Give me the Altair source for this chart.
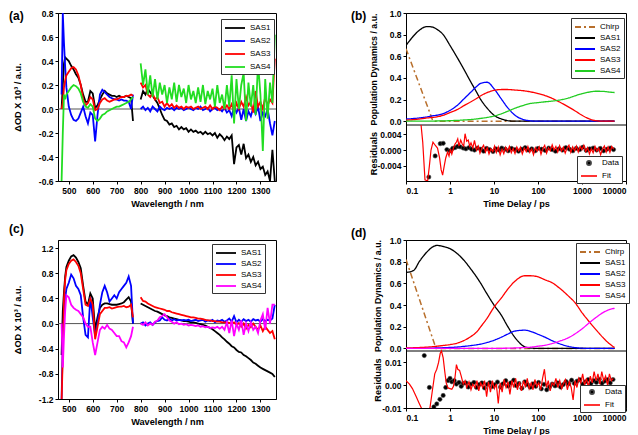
import altair as alt
import pandas as pd

FONT = "Liberation Sans"
MINUS = "replace(datum.label, '\u2212', '-')"
LINE_SYM = "M-2,0L2,0"

# ---------------- spectra (a) and (c) ----------------
WL_VIS = [470, 475, 480, 485, 490, 500, 510, 520, 530, 540, 550, 560, 570, 580, 590, 600,
          610, 620, 630, 640, 650, 660, 670, 680, 690, 700, 710, 720, 730, 740, 750, 760, 768]
WL_NIR = list(range(800, 1361, 10))
SPEC_NAMES = ["SAS1", "SAS2", "SAS3", "SAS4"]

A_SAS1_VIS = [0.0, 0.2, 0.38, 0.43, 0.42, 0.40, 0.36, 0.33, 0.29, 0.26, 0.2, 0.12, 0.06, 0.06, 0.15, 0.13, 0.01,
              0.03, 0.08, 0.12, 0.15, 0.13, 0.12, 0.11, 0.11, 0.1, 0.11, 0.1, 0.1, 0.11, 0.1, 0.09, -0.1]
A_SAS1_NIR = [0.08, 0.15, 0.12, 0.17, 0.14, 0.11, 0.08, 0.05, 0.0, -0.05,
              -0.09, -0.1, -0.13, -0.12, -0.15, -0.14, -0.17, -0.15, -0.17, -0.16,
              -0.19, -0.17, -0.19, -0.18, -0.2, -0.19, -0.21, -0.19, -0.21, -0.2,
              -0.22, -0.2, -0.24, -0.21, -0.23, -0.26, -0.23, -0.25, -0.22, -0.46,
              -0.32, -0.3, -0.38, -0.29, -0.41, -0.38, -0.44, -0.4, -0.47, -0.44,
              -0.5, -0.48, -0.55, -0.52, -0.6, -0.34, -0.6]
A_SAS2_VIS = [0.12, 0.8, 0.55, 0.35, 0.18, 0.02, -0.05, -0.09, -0.1, -0.08, -0.03, 0.02, -0.06, -0.12, -0.03, -0.05,
              -0.27, -0.05, 0.12, 0.16, 0.14, 0.12, 0.1, 0.09, 0.08, 0.08, 0.07, 0.08, 0.07, 0.07, 0.06, 0.0, 0.12]
A_SAS2_NIR = [0.0, 0.02, -0.01, 0.01, -0.02, 0.02, 0.0, -0.02, 0.02, 0.0,
              -0.01, 0.01, 0.0, 0.01, -0.01, 0.01, 0.0, 0.01, -0.01, 0.0,
              0.01, 0.0, -0.01, 0.01, 0.0, 0.02, -0.01, 0.0, 0.01, -0.02,
              0.0, 0.01, -0.01, 0.0, -0.02, 0.01, -0.03, -0.01, -0.06, 0.02,
              -0.03, 0.01, -0.09, 0.0, -0.1, -0.02, -0.06, 0.01, -0.04, 0.02,
              -0.1, -0.03, -0.06, 0.0, -0.12, -0.22, -0.1]
A_SAS3_VIS = [0.0, 0.05, 0.18, 0.24, 0.28, 0.31, 0.34, 0.35, 0.33, 0.28, 0.2, 0.08, 0.03, 0.05, 0.1, 0.08, -0.01,
              0.0, 0.05, 0.08, 0.09, 0.07, 0.06, 0.07, 0.08, 0.08, 0.09, 0.1, 0.1, 0.11, 0.11, 0.12, 0.11]
A_SAS3_NIR = [0.22, 0.18, 0.2, 0.12, 0.1, 0.13, 0.08, 0.1, 0.05, 0.06,
              0.02, 0.05, 0.02, 0.04, 0.01, 0.03, 0.01, 0.02, 0.0, 0.02,
              0.01, 0.02, 0.0, 0.01, 0.02, 0.0, 0.01, 0.02, 0.0, 0.03,
              0.0, 0.02, 0.01, -0.01, 0.02, 0.0, 0.03, 0.0, 0.04, -0.02,
              0.05, 0.0, 0.06, 0.02, 0.1, 0.03, 0.06, -0.03, 0.15, 0.02,
              0.06, 0.0, 0.1, 0.03, 0.08, 0.05, 0.42]
A_SAS4_VIS = [-0.6, -0.2, 0.12, 0.08, 0.12, 0.15, 0.18, 0.2, 0.19, 0.17, 0.13, 0.06, 0.02, 0.01, 0.04, 0.02, -0.08,
              -0.1, -0.08, -0.05, -0.04, -0.02, -0.01, 0.0, 0.01, 0.02, 0.02, 0.03, 0.04, 0.05, 0.06, 0.08, 0.1]
A_SAS4_NIR = [0.38, 0.2, 0.33, 0.12, 0.28, 0.1, 0.25, 0.08, 0.22, 0.12,
              0.2, 0.05, 0.18, 0.08, 0.22, 0.06, 0.2, 0.1, 0.17, 0.05,
              0.2, 0.08, 0.15, 0.05, 0.18, 0.06, 0.2, 0.04, 0.15, 0.08,
              0.17, 0.02, 0.2, 0.05, 0.12, 0.0, 0.2, 0.02, 0.28, -0.12,
              0.25, 0.0, 0.2, 0.3, -0.1, 0.22, 0.02, 0.2, -0.05, 0.38,
              0.12, -0.35, 0.25, -0.08, 0.22, 0.05, 0.62]

C_SAS1_VIS = [-0.5, 0.2, 0.5, 0.75, 0.9, 1.0, 1.07, 1.09, 1.05, 0.98, 0.88, 0.6, 0.35, 0.3, 0.48, 0.4, -0.1,
              0.1, 0.25, 0.3, 0.32, 0.32, 0.31, 0.3, 0.3, 0.3, 0.31, 0.32, 0.34, 0.38, 0.42, 0.35, 0.0]
C_SAS1_NIR = [0.32, 0.3, 0.28, 0.26, 0.24, 0.22, 0.2, 0.19, 0.17, 0.15,
              0.13, 0.12, 0.1, 0.09, 0.08, 0.07, 0.06, 0.05, 0.04, 0.04,
              0.03, 0.02, 0.02, 0.01, 0.0, -0.01, -0.02, -0.03, -0.05, -0.07,
              -0.09, -0.12, -0.15, -0.18, -0.22, -0.25, -0.29, -0.32, -0.36, -0.38,
              -0.42, -0.45, -0.46, -0.5, -0.52, -0.55, -0.58, -0.62, -0.64, -0.67,
              -0.7, -0.72, -0.74, -0.76, -0.78, -0.8, -0.85]
C_SAS2_VIS = [-1.2, -0.3, 0.2, 0.4, 0.55, 0.65, 0.78, 0.72, 0.6, 0.55, 0.45, 0.1, -0.18, -0.22, 0.42, 0.1, -0.2,
              0.0, 0.3, 0.5, 0.6, 0.5, 0.35, 0.4, 0.45, 0.4, 0.5, 0.55, 0.6, 0.65, 0.75, 0.6, 0.0]
C_SAS2_NIR = [0.0, 0.02, -0.03, 0.0, 0.02, -0.02, 0.02, 0.04, 0.05, 0.1,
              0.06, 0.05, 0.08, 0.05, 0.07, 0.05, 0.06, 0.05, 0.06, 0.05,
              0.06, 0.04, 0.05, 0.06, 0.04, 0.05, 0.06, 0.03, 0.05, 0.04,
              0.06, 0.02, 0.05, 0.04, 0.06, 0.03, 0.05, 0.08, 0.03, 0.12,
              0.02, 0.06, 0.03, 0.07, 0.04, 0.06, 0.03, 0.07, 0.05, 0.06,
              0.03, 0.07, 0.04, 0.06, 0.05, 0.08, 0.3]
C_SAS3_VIS = [-1.25, -0.5, 0.4, 0.7, 0.85, 0.95, 1.0, 1.02, 0.98, 0.92, 0.8, 0.55, 0.3, 0.28, 0.4, 0.3, -0.25,
              -0.05, 0.15, 0.2, 0.25, 0.25, 0.26, 0.24, 0.25, 0.26, 0.27, 0.27, 0.28, 0.26, 0.27, 0.3, 0.1]
C_SAS3_NIR = [0.42, 0.36, 0.35, 0.32, 0.3, 0.28, 0.26, 0.25, 0.24, 0.23,
              0.22, 0.2, 0.2, 0.18, 0.17, 0.16, 0.15, 0.14, 0.13, 0.12,
              0.11, 0.1, 0.1, 0.09, 0.08, 0.08, 0.07, 0.06, 0.05, 0.05,
              0.04, 0.04, 0.03, 0.03, 0.02, 0.02, 0.02, 0.01, 0.0, 0.02,
              -0.02, 0.01, -0.05, 0.0, -0.08, -0.02, -0.06, 0.0, -0.05, -0.1,
              -0.03, -0.12, -0.05, -0.1, -0.15, -0.12, -0.25]
C_SAS4_VIS = [0.0, -0.7, -0.2, 0.2, 0.45, 0.42, 0.3, 0.25, 0.22, 0.2, 0.15, 0.1, 0.0, -0.05, -0.05, -0.3, -0.5,
              -0.3, -0.1, -0.05, -0.08, -0.02, -0.08, -0.1, -0.15, -0.2, -0.2, -0.28, -0.3, -0.38, -0.3, -0.2, -0.05]
C_SAS4_NIR = [0.0, -0.02, 0.02, -0.03, 0.0, -0.02, 0.03, 0.05, 0.1, 0.12,
              0.15, 0.1, 0.05, 0.03, 0.0, 0.02, -0.01, 0.0, -0.02, -0.01,
              -0.03, -0.02, -0.03, -0.04, -0.03, -0.05, -0.04, -0.06, -0.05, -0.07,
              -0.06, -0.07, -0.05, -0.08, -0.05, -0.1, 0.02, -0.15, 0.05, -0.2,
              0.0, -0.1, 0.05, -0.18, 0.0, -0.12, 0.02, -0.1, -0.05, -0.15,
              0.05, 0.15, -0.1, 0.25, 0.0, 0.3, 0.3]

# ---------------- kinetics (b) and (d) ----------------
T_GRID = [0.1, 0.15, 0.2, 0.3, 0.4, 0.5, 0.7, 1, 1.5, 2, 3, 4, 5, 7, 10, 15, 20, 30, 50, 70,
          100, 150, 200, 300, 500, 700, 1000, 1500, 2000, 3000, 4000, 5500]
KIN_NAMES = ["Chirp", "SAS1", "SAS2", "SAS3", "SAS4"]

B_CHIRP_T = [0.1, 0.41, 5500]
B_CHIRP_V = [0.67, 0.0, 0.0]
B_SAS1 = [0.70, 0.79, 0.84, 0.875, 0.87, 0.85, 0.80, 0.70, 0.58, 0.49, 0.36, 0.27, 0.20, 0.12, 0.055, 0.02,
          0.006, 0, 0, 0, 0, 0, 0, 0, 0, 0, 0, 0, 0, 0, 0, 0]
B_SAS2 = [0.02, 0.025, 0.03, 0.04, 0.05, 0.055, 0.07, 0.1, 0.15, 0.2, 0.27, 0.32, 0.35, 0.36, 0.3, 0.2,
          0.13, 0.055, 0.012, 0.003, 0, 0, 0, 0, 0, 0, 0, 0, 0, 0, 0, 0]
B_SAS3 = [0.01, 0.015, 0.02, 0.03, 0.035, 0.04, 0.055, 0.08, 0.11, 0.14, 0.18, 0.21, 0.235, 0.265, 0.285, 0.293,
          0.293, 0.288, 0.28, 0.27, 0.255, 0.235, 0.215, 0.18, 0.13, 0.095, 0.055, 0.02, 0.006, 0.0, 0.0, 0.0]
B_SAS4 = [0, 0, 0, 0.001, 0.001, 0.002, 0.003, 0.005, 0.008, 0.011, 0.016, 0.021, 0.026, 0.035, 0.048, 0.07,
          0.09, 0.12, 0.15, 0.165, 0.172, 0.18, 0.185, 0.195, 0.215, 0.235, 0.255, 0.27, 0.277, 0.276, 0.27, 0.265]

B_RES_T = [0.33, 0.46, 0.6, 0.7, 0.85, 1.0, 1.15, 1.3, 1.5, 1.7, 2.0, 2.3, 2.7, 3.1, 3.6, 4.2, 5.0, 5.8, 6.8,
           8.0, 9.5, 11, 13, 15, 18, 21, 25, 30, 36, 43, 51, 60, 72, 86, 100, 120, 145, 175, 210, 250, 300,
           360, 430, 520, 620, 740, 890, 1050, 1250, 1500, 1800, 2150, 2600, 3100, 3700, 4400, 5200]
B_RES_V = [-0.0068, -0.0015, 0.0016, 0.0017, 0.0001, -0.0002, 0.0004, 0.0006, 0.0009, 0.0008,
           0.0005, 0.0003, 0.0006, 0.0002, 0.0, 0.0005, 0.0002, -0.0003, 0.0004, 0.0001,
           -0.0004, 0.0003, 0.0, 0.0005, 0.0002, -0.0002, 0.0004, 0.0001, -0.0003, 0.0002,
           0.0006, 0.0, 0.0003, -0.0002, 0.0004, 0.0002, -0.0001, 0.0005, 0.0001, -0.0003,
           0.0003, 0.0, 0.0006, 0.0002, -0.0002, 0.0004, 0.0001, 0.0007, -0.0001, 0.0003,
           0.0005, 0.0, 0.0004, -0.0002, 0.0002, 0.0005, 0.0001]
B_FIT_T = [0.22, 0.24, 0.27, 0.31, 0.34, 0.37, 0.41, 0.46, 0.52, 0.58, 0.63, 0.68, 0.74, 0.8, 0.88, 0.95,
           1.02, 1.1, 1.2, 1.3, 1.4, 1.5, 1.6, 1.75, 1.9, 2.05, 2.2, 2.4, 2.6, 2.8, 3.0, 3.3, 3.6, 4.0,
           4.4, 4.8, 5.3, 5.8, 6.4, 7.0, 7.7, 8.5, 9.4, 10.3, 11.3, 12.5, 13.8, 15.2, 16.7, 18.4, 20.3,
           22.4, 24.7, 27.2, 30, 33, 36.5, 40, 44, 49, 54, 59, 65, 72, 79, 87, 96, 106, 117, 129, 142,
           157, 173, 190, 210, 231, 255, 281, 310, 342, 377, 415, 458, 505, 557, 614, 677, 746, 822,
           906, 999, 1100, 1215, 1340, 1475, 1625, 1790, 1975, 2180, 2400, 2650, 2920, 3220, 3550,
           3910, 4310, 4750, 5240]
B_FIT_V = [0.0063, 0.002, -0.0075, -0.0078, -0.004, 0.0, 0.002, 0.0012, 0.0005, -0.002, -0.005, -0.0063,
           -0.004, -0.002, -0.0005, -0.0015, 0.0002, -0.001, 0.0005, 0.0015, 0.002, 0.0028, 0.001, 0.0025,
           0.0015, 0.001, 0.0041, 0.0022, 0.0025, 0.001, 0.0018, 0.0005, 0.0024, 0.0, 0.001, -0.0008,
           0.0005, 0.0012, -0.0005, 0.0006, -0.001, 0.0003, -0.0004, 0.001, -0.0006, 0.0008, -0.0012,
           0.0002, -0.0009, 0.0007, -0.0003, 0.0009, -0.0007, 0.0004, -0.0009, 0.0008, -0.0002, 0.0007,
           -0.001, 0.0005, -0.0004, 0.0009, -0.0006, 0.0003, -0.0012, 0.0006, -0.0003, 0.0008, -0.0011,
           0.0004, 0.0012, -0.0008, 0.0006, -0.0002, 0.0013, 0.0, 0.0009, -0.0005, 0.0011, -0.0003,
           0.0007, -0.0008, 0.0005, 0.0012, -0.0006, 0.0008, -0.0002, 0.001, -0.0005, 0.0009, 0.0001,
           0.0012, -0.0004, 0.0006, -0.001, 0.0003, -0.0007, 0.0009, -0.0003, 0.0005, -0.0012, 0.0002,
           0.001, -0.0005, 0.0008, -0.0006, 0.0009, 0.0002]

D_CHIRP_T = [0.1, 0.48, 5500]
D_CHIRP_V = [0.82, 0.0, 0.0]
D_SAS1 = [0.70, 0.72, 0.80, 0.89, 0.935, 0.95, 0.94, 0.92, 0.87, 0.82, 0.73, 0.66, 0.6, 0.5, 0.4, 0.3,
          0.21, 0.1, 0.015, 0.003, 0, 0, 0, 0, 0, 0, 0, 0, 0, 0, 0, 0]
D_SAS2 = [0, 0, 0.001, 0.002, 0.003, 0.004, 0.006, 0.009, 0.013, 0.018, 0.026, 0.033, 0.04, 0.055, 0.075,
          0.105, 0.13, 0.16, 0.168, 0.155, 0.13, 0.1, 0.075, 0.045, 0.018, 0.007, 0.002, 0, 0, 0, 0, 0]
D_SAS3 = [0.005, 0.006, 0.008, 0.012, 0.016, 0.02, 0.027, 0.035, 0.05, 0.07, 0.11, 0.15, 0.2, 0.28, 0.38,
          0.47, 0.54, 0.62, 0.67, 0.67, 0.66, 0.63, 0.61, 0.56, 0.48, 0.42, 0.33, 0.24, 0.18, 0.1, 0.05, 0.008]
D_SAS4 = [0, 0, 0, 0, 0, 0, 0, 0, 0, 0, 0, 0, 0, 0, 0, 0.001, 0.002, 0.004, 0.008, 0.012, 0.02, 0.03,
          0.042, 0.065, 0.1, 0.135, 0.18, 0.24, 0.28, 0.33, 0.355, 0.37]

D_RES_T = [0.26, 0.34, 0.43, 0.5, 0.59, 0.7, 0.8, 0.9, 1.0, 1.1, 1.25, 1.4, 1.6, 1.8, 2.0, 2.3, 2.6, 3.0,
           3.5, 4.0, 4.6, 5.3, 6.1, 7, 8, 9.2, 10.5, 12, 14, 16, 18.5, 21, 24, 28, 32, 37, 43, 50, 58, 67,
           77, 89, 103, 119, 137, 158, 183, 211, 244, 282, 326, 376, 435, 502, 580, 670, 775, 895, 1035,
           1195, 1380, 1595, 1845, 2130, 2460, 2845, 3285, 3800, 4390, 5070]
D_RES_V = [0.013, -0.001, -0.0095, -0.0082, -0.0062, -0.0045, -0.001, 0.002, 0.003, 0.0015, 0.002, 0.0005,
           0.0012, -0.0005, 0.0008, 0.001, -0.0008, 0.0005, 0.0012, -0.001, 0.0003, 0.001, -0.0012, 0.0004,
           0.0011, -0.0006, 0.0002, 0.0014, -0.0008, 0.0006, 0.002, -0.0004, 0.001, 0.0022, -0.0002, 0.0008,
           -0.0013, 0.0015, 0.0002, -0.0009, 0.0006, -0.0005, 0.0012, -0.0016, 0.0004, -0.002, -0.0007,
           0.0005, -0.0003, 0.001, -0.0008, 0.0003, 0.0016, 0.0006, 0.0022, 0.0008, 0.0018, 0.0024, 0.0005,
           0.0015, 0.0025, 0.0008, 0.002, 0.0012, 0.0026, 0.0009, 0.0018, 0.0024, 0.001, 0.0025]
D_FIT_T = [0.1, 0.12, 0.14, 0.17, 0.2, 0.23, 0.27, 0.31, 0.35, 0.4, 0.45, 0.5, 0.55, 0.6, 0.64, 0.7, 0.76,
           0.82, 0.9, 1.0, 1.1, 1.2, 1.3, 1.4, 1.5, 1.65, 1.8, 2.0, 2.2, 2.4, 2.7, 3.0, 3.3, 3.7, 4.1, 4.5,
           5.0, 5.5, 6.1, 6.8, 7.5, 8.3, 9.2, 10.2, 11.3, 12.5, 13.8, 15.3, 17, 18.8, 20.8, 23, 25.5, 28,
           31, 34, 38, 42, 47, 52, 57, 63, 70, 77, 85, 94, 104, 115, 127, 140, 155, 171, 189, 209, 231,
           255, 282, 312, 345, 381, 421, 465, 514, 568, 628, 694, 767, 848, 937, 1035, 1145, 1265, 1398,
           1545, 1707, 1887, 2085, 2305, 2547, 2815, 3111, 3438, 3800, 4200, 4640, 5130]
D_FIT_V = [0.002, 0.0005, -0.0015, -0.005, -0.008, -0.0105, -0.012, -0.014, -0.01, -0.002, 0.005, 0.007,
           0.01, 0.014, 0.015, 0.012, 0.006, 0.001, -0.0012, -0.0015, -0.0018, -0.0005, 0.0035, 0.009,
           0.007, 0.0065, 0.004, 0.0005, 0.002, -0.001, 0.0015, -0.002, 0.0005, -0.001, 0.002, -0.0025,
           0.001, -0.001, 0.002, -0.005, 0.0015, -0.003, 0.002, -0.0015, 0.0005, -0.008, 0.001, -0.003,
           0.0025, -0.001, 0.0015, -0.004, 0.002, -0.001, 0.003, -0.002, 0.0015, -0.0025, 0.002, -0.001,
           0.003, -0.0015, 0.001, -0.002, 0.0025, -0.0005, 0.001, -0.002, 0.003, 0.007, -0.001, 0.002,
           -0.0025, 0.001, 0.0, 0.003, -0.001, 0.002, -0.0015, 0.001, 0.0025, -0.002, 0.0015, -0.001,
           -0.0065, 0.002, -0.001, 0.003, 0.001, 0.005, 0.0, 0.003, -0.001, 0.004, 0.001, 0.006, 0.002,
           0.005, 0.0005, 0.006, 0.002, 0.004, 0.0, 0.005, 0.002, 0.003]

CHIRP_COLOR = "#b86f2c"


def spectra_df(vis_lists, nir_lists):
    rows = []
    for name, v1, v2 in zip(SPEC_NAMES, vis_lists, nir_lists):
        for w, v in zip(WL_VIS, v1):
            rows.append({"wl": w, "val": v, "series": name, "seg": name + "v"})
        for w, v in zip(WL_NIR, v2):
            rows.append({"wl": w, "val": v, "series": name, "seg": name + "n"})
    return pd.DataFrame(rows)


def panel_label(text, x, y):
    return alt.Chart(pd.DataFrame({"t": [text]})).mark_text(
        align="left", baseline="middle", font=FONT, fontSize=12, fontWeight="bold", color="black"
    ).encode(x=alt.value(x), y=alt.value(y), text="t:N")


def line_legend(x, y, row_pad):
    return alt.Legend(title=None, orient="none", legendX=x, legendY=y, symbolType=LINE_SYM,
                      symbolSize=100, symbolOffset=5, labelOffset=9, rowPadding=row_pad,
                      symbolStrokeWidth=1.8)


def spectra_chart(df, colors, ydom, yvals, w, h, label, lxy, legxy, row_pad):
    x = alt.X("wl:Q", scale=alt.Scale(domain=[455, 1365], nice=False, zero=False),
              axis=alt.Axis(values=list(range(500, 1301, 100)), format="d",
                            title="Wavelength / nm", titlePadding=5))
    y = alt.Y("val:Q", scale=alt.Scale(domain=ydom, nice=False, zero=False),
              axis=alt.Axis(values=yvals, format=".1f", labelExpr=MINUS,
                            title="\u0394OD X 10\u00b3 / a.u.", minExtent=20, maxExtent=20,
                            titlePadding=16))
    zero = alt.Chart(pd.DataFrame({"val": [0.0]})).mark_rule(color="#555555", strokeWidth=1).encode(y=y)
    lines = alt.Chart(df).mark_line(strokeWidth=1.8, clip=True).encode(
        x=x, y=y,
        color=alt.Color("series:N", scale=alt.Scale(domain=SPEC_NAMES, range=colors),
                        legend=line_legend(legxy[0], legxy[1], row_pad)),
        detail="seg:N",
    )
    return alt.layer(zero, lines, panel_label(label, lxy[0], lxy[1])).properties(width=w, height=h)


def kin_df(curves):
    rows = []
    for name, vals in zip(SPEC_NAMES, curves):
        for t, v in zip(T_GRID, vals):
            rows.append({"t": t, "v": v, "series": name})
    return pd.DataFrame(rows)


def kinetics_chart(curves, chirp_t, chirp_v, c4, top_dom, res_t, res_v, fit_t, fit_v,
                   res_dom, res_vals, res_fmt, split, w, h, ext, tpad, label, lxy, leg1, leg2):
    x = alt.X("t:Q", scale=alt.Scale(type="log", domain=[0.1, 10000], nice=False),
              axis=alt.Axis(values=[0.1, 1, 10, 100, 1000, 10000], format="~g",
                            title="Time Delay / ps", titlePadding=5))
    ytop = alt.Y("v:Q", scale=alt.Scale(domain=top_dom, range=[split, 0], nice=False, zero=False),
                 axis=alt.Axis(orient="left", values=[0, 0.2, 0.4, 0.6, 0.8, 1.0], format=".1f",
                               title="Population Dynamics / a.u.", titleFontSize=8.8,
                               minExtent=ext, maxExtent=ext, titlePadding=tpad))
    leg = line_legend(leg1[0], leg1[1], 1)
    col = alt.Color("series:N", scale=alt.Scale(domain=KIN_NAMES,
                    range=[CHIRP_COLOR, "black", "#0000ff", "#ff0000", c4]), legend=leg)
    dash = alt.StrokeDash("series:N", scale=alt.Scale(domain=KIN_NAMES,
                          range=[[6, 3, 2, 3], [1, 0], [1, 0], [1, 0], [1, 0]]), legend=leg)
    chirp = alt.Chart(pd.DataFrame({"t": chirp_t, "v": chirp_v, "series": "Chirp"})).mark_line(
        strokeWidth=1.5, clip=True).encode(x=x, y=ytop, color=col, strokeDash=dash)
    sas = alt.Chart(kin_df(curves)).mark_line(strokeWidth=1.3, interpolate="monotone", clip=True).encode(
        x=x, y=ytop, color=col, strokeDash=dash)
    divider = alt.Chart(pd.DataFrame({"v": [top_dom[0]]})).mark_rule(color="black", strokeWidth=1).encode(y=ytop)
    top = alt.layer(chirp, sas, divider, panel_label(label, lxy[0], lxy[1]))

    ybot = alt.Y("v:Q", scale=alt.Scale(domain=res_dom, range=[h, split], nice=False, zero=False),
                 axis=alt.Axis(orient="left", values=res_vals, format=res_fmt, labelExpr=MINUS,
                               title="Residuals", minExtent=ext, maxExtent=ext, titlePadding=tpad))
    leg_r = alt.Legend(title=None, orient="none", legendX=leg2[0], legendY=leg2[1],
                       symbolStrokeWidth=1.6, symbolOffset=4, labelOffset=8, rowPadding=2)
    kdom = ["Data", "Fit"]
    fill = alt.Fill("kind:N", scale=alt.Scale(domain=kdom, range=["black", "#ff0000"]), legend=leg_r)
    stroke = alt.Stroke("kind:N", scale=alt.Scale(domain=kdom, range=["#444444", "#ff0000"]), legend=leg_r)
    shape = alt.Shape("kind:N", scale=alt.Scale(domain=kdom, range=["circle", LINE_SYM]), legend=leg_r)
    size = alt.Size("kind:N", scale=alt.Scale(domain=kdom, range=[18, 64]), legend=leg_r)
    pts = alt.Chart(pd.DataFrame({"t": res_t, "v": res_v, "kind": "Data"})).mark_point(
        filled=True, opacity=1, strokeWidth=0.6, clip=True).encode(x=x, y=ybot, fill=fill, stroke=stroke,
                                                                    shape=shape, size=size)
    fit = alt.Chart(pd.DataFrame({"t": fit_t, "v": fit_v, "kind": "Fit"})).mark_line(
        strokeWidth=1.2, clip=True).encode(x=x, y=ybot, stroke=stroke)
    bottom = alt.layer(pts, fit)
    return alt.layer(top, bottom).resolve_scale(y="independent").properties(width=w, height=h)


df_a = spectra_df([A_SAS1_VIS, A_SAS2_VIS, A_SAS3_VIS, A_SAS4_VIS],
                  [A_SAS1_NIR, A_SAS2_NIR, A_SAS3_NIR, A_SAS4_NIR])
df_c = spectra_df([C_SAS1_VIS, C_SAS2_VIS, C_SAS3_VIS, C_SAS4_VIS],
                  [C_SAS1_NIR, C_SAS2_NIR, C_SAS3_NIR, C_SAS4_NIR])

pa = spectra_chart(df_a, ["black", "#0000ff", "#ff0000", "#22dd22"], [-0.6, 0.8],
                   [-0.6, -0.4, -0.2, 0.0, 0.2, 0.4, 0.6, 0.8], 218, 168, "(a)", (-49, 3), (163, 6), 3)
pc = spectra_chart(df_c, ["black", "#0000ff", "#ff0000", "#ff00ff"], [-1.2, 1.33],
                   [-1.2, -0.8, -0.4, 0.0, 0.4, 0.8, 1.2], 218, 159, "(c)", (-49, -11), (154, 4), 1)
pb = kinetics_chart([B_SAS1, B_SAS2, B_SAS3, B_SAS4], B_CHIRP_T, B_CHIRP_V, "#22cc22", [-0.035, 1.0],
                    B_RES_T, B_RES_V, B_FIT_T, B_FIT_V, [-0.0078, 0.0063], [-0.004, 0.0, 0.004], ".3f",
                    112, 220, 168, 24, 4, "(b)", (-55, 3), (165, 5), (171, 143))
pd_ = kinetics_chart([D_SAS1, D_SAS2, D_SAS3, D_SAS4], D_CHIRP_T, D_CHIRP_V, "#ff00ff", [-0.024, 1.0],
                     D_RES_T, D_RES_V, D_FIT_T, D_FIT_V, [-0.01, 0.015], [-0.01, 0.0, 0.01], ".2f",
                     111, 220, 168, 21, 3, "(d)", (-55, -7), (170, 3), (174, 145))

chart = alt.concat(pa, pb, pc, pd_, columns=2, spacing={"row": 59, "column": 130}, bounds="flush",
                   padding=0).resolve_scale(
    color="independent", strokeDash="independent", fill="independent", stroke="independent",
    shape="independent", size="independent"
).configure_view(
    stroke="black", strokeWidth=1
).configure_axis(
    grid=False, domainColor="black", tickColor="black", tickSize=3, labelPadding=2,
    labelFont=FONT, labelFontSize=8.5, labelFontWeight="bold", labelColor="black",
    titleFont=FONT, titleFontSize=9.2, titleFontWeight="bold", titleColor="black",
).configure_legend(
    labelFont=FONT, labelFontSize=8, labelColor="black", strokeColor="#333333", fillColor="white",
    padding=3, cornerRadius=0,
)

chart.save("out.html", embed_options={"renderer": "svg", "actions": False})
